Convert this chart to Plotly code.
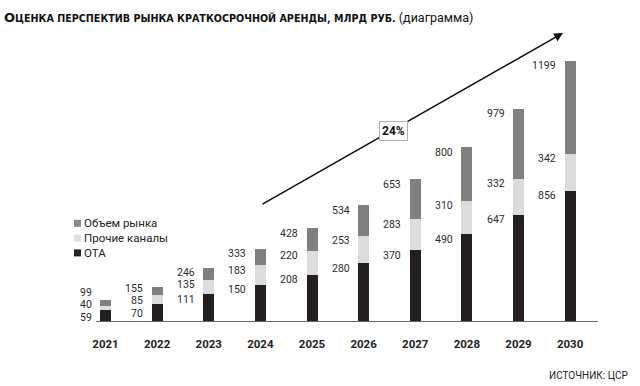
import plotly.graph_objects as go

# ---------------- data ----------------
years = ["2021", "2022", "2023", "2024", "2025", "2026", "2027", "2028", "2029", "2030"]
ota = [59, 70, 111, 150, 208, 280, 370, 490, 647, 856]          # ОТА
other = [40, 85, 135, 183, 220, 253, 283, 310, 332, 342]        # Прочие каналы
total = [99, 155, 246, 333, 428, 534, 653, 800, 979, 1199]      # Объем рынка
growth_label = "24%"

# colours as used in the picture (bottom -> top: black, light grey, dark grey)
C_BLACK = "#231f20"
C_LIGHT = "#dcdcdc"
C_DARK = "#808080"

# ---------------- layout constants (pixels) ----------------
W, H = 640, 386
L, R, T, B = 96, 42, 25, 65
PW, PH = W - L - R, H - T - B
YMAX = 2728
PPU = PH / YMAX  # pixels per data unit


def px_x(p):
    return (p - L) / PW


def px_y(p):
    return (H - B - p) / PH


fig = go.Figure()
# In the original graphic the segments are stacked as: black (height = total),
# light grey (other channels), dark grey (OTA) -- reproduced as drawn.
fig.add_trace(go.Bar(x=years, y=total, name="ОТА", marker=dict(color=C_BLACK, line=dict(width=0)),
                     width=0.213, showlegend=False, hoverinfo="skip"))
fig.add_trace(go.Bar(x=years, y=other, name="Прочие каналы", marker=dict(color=C_LIGHT, line=dict(width=0)),
                     width=0.213, showlegend=False, hoverinfo="skip"))
fig.add_trace(go.Bar(x=years, y=ota, name="Объем рынка", marker=dict(color=C_DARK, line=dict(width=0)),
                     width=0.213, showlegend=False, hoverinfo="skip"))

annotations = []
shift = 5 / PPU
gap = 12.5 / PPU
floor = 4 / PPU
for i, yr in enumerate(years):
    tops = [total[i] + other[i] + ota[i], total[i] + other[i], total[i]]
    texts = [total[i], other[i], ota[i]]
    ys = [t - shift for t in tops]
    for _ in range(60):
        for k in range(2):
            d = ys[k] - ys[k + 1]
            if d < gap:
                m = (gap - d) / 2
                ys[k] += m
                ys[k + 1] -= m
    if ys[2] < floor:
        up = floor - ys[2]
        ys = [v + up for v in ys]
    for yv, tv in zip(ys, texts):
        annotations.append(dict(x=i, y=yv, xref="x", yref="y", text=str(tv), showarrow=False,
                                xanchor="right", yanchor="middle", xshift=-13, borderpad=0,
                                font=dict(family="Roboto", size=10.5, color="#2b2b2b")))

# growth arrow
x_of = lambda p: -0.184 + (p - L) / (PW / 9.724)
y_of = lambda p: (H - B - p) / PPU
annotations.append(dict(x=x_of(563), y=y_of(33), ax=x_of(261), ay=y_of(205), xref="x", yref="y",
                        axref="x", ayref="y", text="", showarrow=True, arrowhead=2, arrowsize=1.1,
                        arrowwidth=1.6, arrowcolor="#111111", standoff=0))
annotations.append(dict(x=x_of(393.5), y=y_of(130.5), xref="x", yref="y", text="<b>" + growth_label + "</b>",
                        showarrow=False, bgcolor="white", bordercolor="#b0b0b0", borderwidth=1, borderpad=2,
                        font=dict(family="Roboto", size=12, color="#111111")))

# legend (custom)
legend_items = [("Объем рынка", "#8a8a8a"), ("Прочие каналы", "#e0e0e0"), ("ОТА", "#222222")]
shapes = []
for k, (name, col) in enumerate(legend_items):
    cy = 223.3 + k * 14.8
    shapes.append(dict(type="rect", xref="paper", yref="paper", x0=px_x(74), x1=px_x(81),
                       y0=px_y(cy + 3.5), y1=px_y(cy - 3.5), fillcolor=col, line=dict(width=0)))
    annotations.append(dict(x=px_x(82), y=px_y(cy), xref="paper", yref="paper", text=name, showarrow=False,
                            xanchor="left", yanchor="middle",
                            font=dict(family="Roboto", size=11.5, color="#222222")))

# source
annotations.append(dict(x=px_x(630), y=px_y(375), xref="paper", yref="paper", text="ИСТОЧНИК: ЦСР",
                        showarrow=False, xanchor="right", yanchor="middle",
                        font=dict(family="Roboto", size=10, color="#222222")))

title_text = ("<b><span style='font-size:13px'>О</span>ЦЕНКА ПЕРСПЕКТИВ РЫНКА КРАТКОСРОЧНОЙ АРЕНДЫ, МЛРД РУБ.</b> "
              "<span style='font-family:Roboto;font-size:12.5px'>(диаграмма)</span>")

fig.update_layout(
    width=W, height=H,
    margin=dict(l=L, r=R, t=T, b=B),
    barmode="stack",
    plot_bgcolor="white", paper_bgcolor="white",
    title=dict(text=title_text, x=4 / W, xref="container", xanchor="left",
               y=1 - 19 / H, yref="container", yanchor="middle",
               font=dict(family="DejaVu Sans", size=9.6, color="#111111")),
    xaxis=dict(type="category", range=[-0.184, 9.54], showline=True, linecolor="#666666", linewidth=1,
               ticks="", showgrid=False, zeroline=False, ticklabelstandoff=12,
               tickfont=dict(family="Roboto", size=11.5, color="#222222", weight="bold")),
    yaxis=dict(range=[0, YMAX], visible=False, showgrid=False, zeroline=False),
    annotations=annotations,
    shapes=shapes,
    showlegend=False,
)

fig.write_html("out.html", config={"displayModeBar": False},
               post_script="document.body.style.margin='0';")
